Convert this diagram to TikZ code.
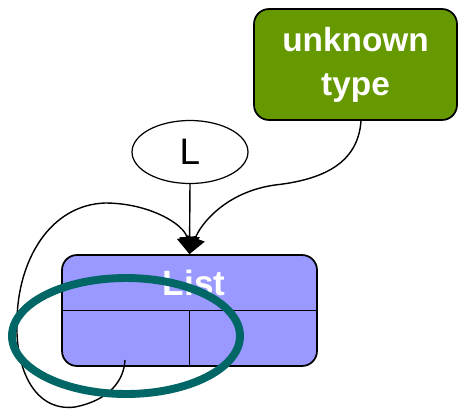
\documentclass[tikz,border=0pt]{standalone}
\usepackage{fontspec}
\setmainfont{Liberation Sans}
\usetikzlibrary{arrows.meta}
\usetikzlibrary{shapes.geometric}
\usetikzlibrary{calc}

\definecolor{typegreen}{HTML}{669900}
\definecolor{listblue}{HTML}{9999FF}
\definecolor{ringteal}{HTML}{006666}

\tikzset{
    typebox/.style={draw, line width=1pt, rounded corners=3mm, fill=typegreen,
        text=white, align=center, minimum width=4.06cm, minimum height=2.22cm,
        font=\bfseries\fontsize{19}{25}\selectfont},
    listbox/.style={draw, line width=1pt, rounded corners=3mm, fill=listblue,
        minimum width=5.1cm, minimum height=2.22cm},
    varnode/.style={draw, ellipse, line width=0.7pt, minimum width=2.32cm,
        minimum height=1.26cm, font=\fontsize{21}{25}\selectfont},
    link/.style={line width=0.8pt, -{Triangle[width=4mm,length=3.4mm]}}
}

\begin{document}
\begin{tikzpicture}[x=0.02cm, y=-0.02cm]
                \useasboundingbox (0,0) rectangle (458,410);

                \node[typebox] (unk) at (355.5,64.5) {unknown\\type};
                \node[varnode] (lbl) at (190,152) {L};
                \node[listbox] (list) at (189.5,310.5) {};
                \node[text=white, font=\bfseries\fontsize{20}{24}\selectfont] (listname) at (194,283) {List};

                % cells of the list record
                \draw[line width=1pt] (list.west) -- (list.east);
                \draw[line width=1pt] (list.center) -- (list.south);
                \coordinate (cell) at (125,360);

                \draw[link] (lbl.south) -- (list.north);
                \draw[link] ([xshift=1.1mm]unk.south) .. controls (358,165) and (320,180) .. (275,185)
                    .. controls (225,192) and (200,225) .. (list.north);
                \draw[link] (cell) .. controls (124,380) and (110,400) .. (75,407)
                    .. controls (35,412) and (15,370) .. (17,320)
                    .. controls (18,260) and (50,205) .. (105,203)
                    .. controls (150,203) and (185,225) .. (list.north);

                \draw[ringteal, line width=4.5pt] (126,336) ellipse [x radius=114, y radius=58];
            \end{tikzpicture}
\end{document}
